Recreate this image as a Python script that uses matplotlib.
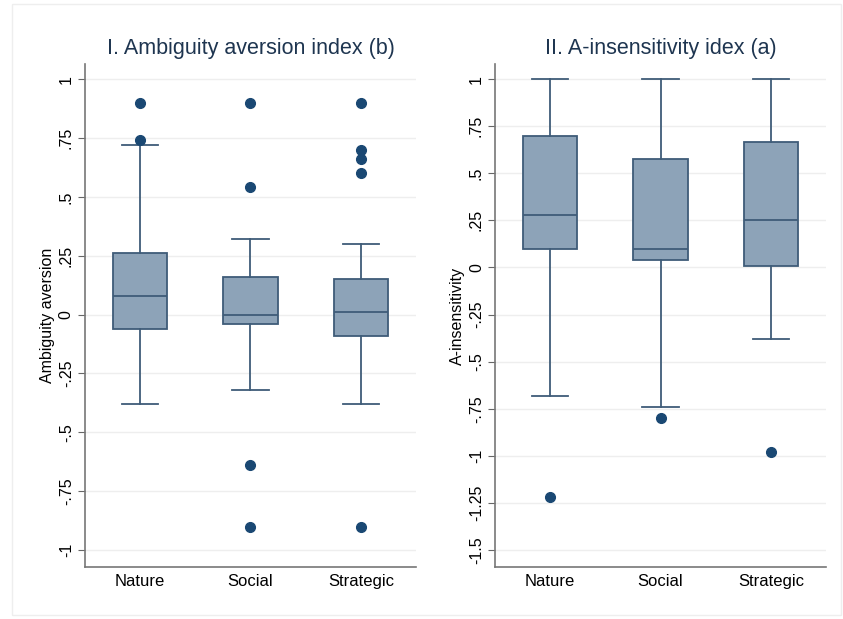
import matplotlib
matplotlib.use('Agg')
import matplotlib.pyplot as plt
from matplotlib.patches import Rectangle

plt.rcParams['font.family'] = ['Liberation Sans', 'DejaVu Sans']

groups = ['Nature', 'Social', 'Strategic']

# panel I: ambiguity aversion (b)
aa_q1 = [-0.06, -0.04, -0.09]
aa_med = [0.08, 0.00, 0.01]
aa_q3 = [0.26, 0.16, 0.15]
aa_lo = [-0.38, -0.32, -0.38]
aa_hi = [0.72, 0.32, 0.30]
aa_out = [[0.90, 0.74], [0.90, 0.54, -0.64, -0.90], [0.90, 0.70, 0.66, 0.60, -0.90]]

# panel II: a-insensitivity (a)
ai_q1 = [0.10, 0.04, 0.01]
ai_med = [0.28, 0.10, 0.25]
ai_q3 = [0.70, 0.575, 0.665]
ai_lo = [-0.68, -0.74, -0.38]
ai_hi = [1.00, 1.00, 1.00]
ai_out = [[-1.22], [-0.80], [-0.98]]

aa_ticks = [1, 0.75, 0.5, 0.25, 0, -0.25, -0.5, -0.75, -1]
aa_labels = ['1', '.75', '.5', '.25', '0', '-.25', '-.5', '-.75', '-1']
ai_ticks = [1, 0.75, 0.5, 0.25, 0, -0.25, -0.5, -0.75, -1, -1.25, -1.5]
ai_labels = ['1', '.75', '.5', '.25', '0', '-.25', '-.5', '-.75', '-1', '-1.25', '-1.5']

FILL = '#8da3b8'
EDGE = '#3f5c78'
DOT = '#1a4873'


def make_stats(q1, med, q3, lo, hi, out):
    stats = []
    for i in range(len(groups)):
        stats.append({'q1': q1[i], 'med': med[i], 'q3': q3[i],
                      'whislo': lo[i], 'whishi': hi[i], 'fliers': out[i],
                      'label': groups[i]})
    return stats


def draw_panel(ax, stats, title, ylabel, ticks, labels, ylim):
    ax.bxp(stats, positions=[1, 2, 3], widths=0.49, patch_artist=True,
           showfliers=True, capwidths=0.33,
           boxprops=dict(facecolor=FILL, edgecolor=EDGE, linewidth=1.3),
           medianprops=dict(color=EDGE, linewidth=1.3),
           whiskerprops=dict(color=EDGE, linewidth=1.3),
           capprops=dict(color=EDGE, linewidth=1.3),
           flierprops=dict(marker='o', markerfacecolor=DOT, markeredgecolor=DOT,
                           markersize=7))
    ax.set_xlim(0.5, 3.5)
    ax.set_ylim(*ylim)
    ax.set_yticks(ticks)
    ax.set_yticklabels(labels, rotation=90, va='center', fontsize=11.5)
    ax.tick_params(axis='y', length=5, width=0.8, color='#666666', pad=3)
    ax.tick_params(axis='x', length=0, labelsize=12, pad=5)
    ax.set_ylabel(ylabel, fontsize=11.5, labelpad=3)
    ax.set_title(title, fontsize=15.5, color='#1e3550', pad=7)
    ax.grid(axis='y', color='#eeeeee', linewidth=1)
    ax.set_axisbelow(True)
    for s in ['top', 'right']:
        ax.spines[s].set_visible(False)
    for s in ['left', 'bottom']:
        ax.spines[s].set_color('#777777')
        ax.spines[s].set_linewidth(1.2)


fig = plt.figure(figsize=(8.43, 6.19), dpi=100)
fig.patches.append(Rectangle((12 / 843, 4 / 619), 829 / 843, 611 / 619,
                             transform=fig.transFigure, fill=False,
                             edgecolor='#eeeeee', linewidth=1))

ax1 = fig.add_axes([0.1008, 0.0840, 0.3927, 0.8126])
ax2 = fig.add_axes([0.5872, 0.0840, 0.3927, 0.8126])

draw_panel(ax1, make_stats(aa_q1, aa_med, aa_q3, aa_lo, aa_hi, aa_out),
           'I. Ambiguity aversion index (b)', 'Ambiguity aversion',
           aa_ticks, aa_labels, (-1.072, 1.064))
draw_panel(ax2, make_stats(ai_q1, ai_med, ai_q3, ai_lo, ai_hi, ai_out),
           'II. A-insensitivity idex (a)', 'A-insensitivity',
           ai_ticks, ai_labels, (-1.59, 1.08))

fig.savefig('out.png', dpi=100)
